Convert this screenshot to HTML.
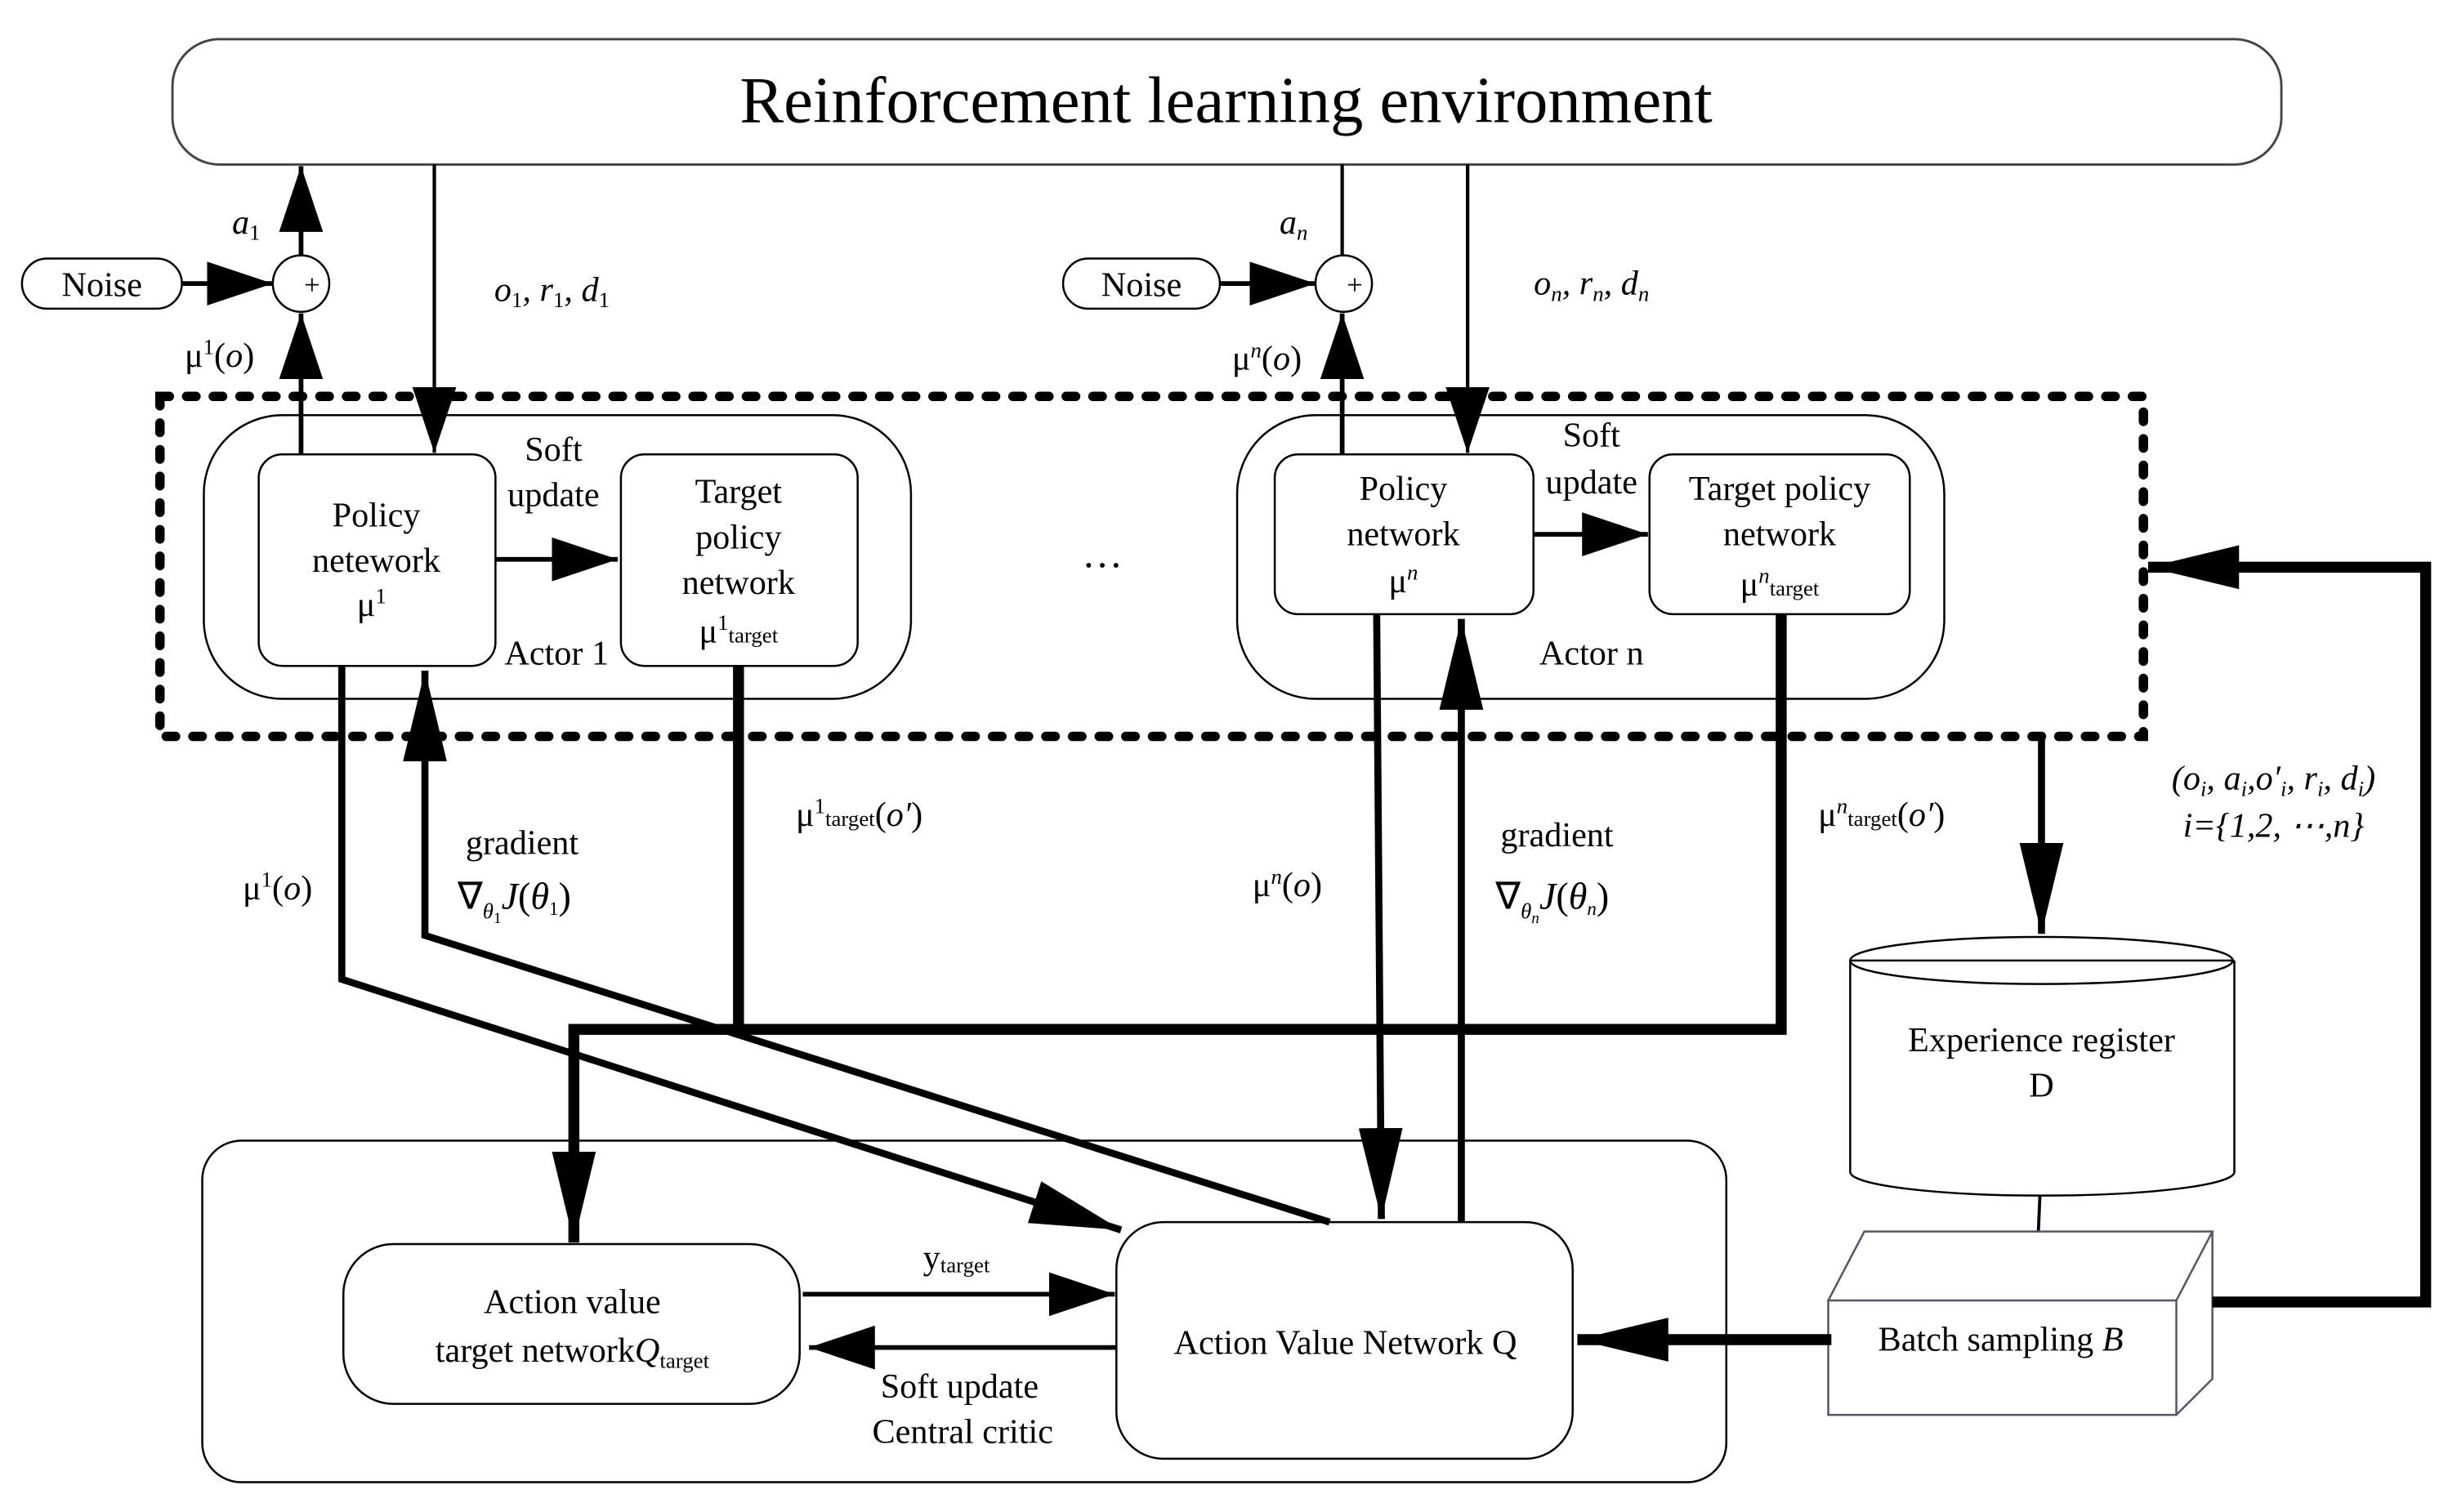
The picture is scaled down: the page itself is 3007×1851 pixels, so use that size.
<!DOCTYPE html>
<html><head><meta charset="utf-8"><style>html,body{margin:0;padding:0;background:#fff}svg{display:block}</style></head><body>
<svg width="3007" height="1851" viewBox="0 0 1567 965" preserveAspectRatio="none" xmlns="http://www.w3.org/2000/svg" font-family="Liberation Serif, serif" font-size="22" text-anchor="middle">
<defs>
<marker id="b" viewBox="0 0 10 10" refX="10" refY="5" markerWidth="58" markerHeight="28" markerUnits="userSpaceOnUse" orient="auto" preserveAspectRatio="none"><path d="M0,0L10,5L0,10z"/></marker>
<marker id="c" viewBox="0 0 10 10" refX="10" refY="5" markerWidth="42" markerHeight="28" markerUnits="userSpaceOnUse" orient="auto" preserveAspectRatio="none"><path d="M0,0L10,5L0,10z"/></marker>
</defs>
<g fill="none" stroke="#000">
<rect x="110" y="25" width="1345" height="80" rx="30" stroke="#444" stroke-width="1.5"/>
<rect x="14" y="165" width="102" height="32" rx="16" stroke-width="1.3"/>
<rect x="678" y="165" width="100" height="32" rx="16" stroke-width="1.3"/>
<circle cx="192" cy="181" r="18" stroke-width="1.3"/>
<circle cx="857" cy="181" r="18" stroke-width="1.3"/>
<rect x="102" y="253" width="1265" height="217" stroke-width="6" stroke-dasharray="6,11" stroke-linecap="round"/>
<rect x="130" y="265" width="451" height="181" rx="50" stroke-width="1.3"/>
<rect x="789" y="265" width="451" height="181" rx="50" stroke-width="1.3"/>
<rect x="165" y="290" width="151" height="135" rx="15" stroke-width="1.3"/>
<rect x="396" y="290" width="151" height="135" rx="15" stroke-width="1.3"/>
<rect x="813" y="290" width="165" height="102" rx="15" stroke-width="1.3"/>
<rect x="1052" y="290" width="166" height="102" rx="15" stroke-width="1.3"/>
<rect x="129" y="728" width="972" height="218" rx="25" stroke-width="1.3"/>
<rect x="219" y="794" width="291" height="102" rx="32" stroke-width="1.3"/>
<rect x="712" y="780" width="291" height="151" rx="30" stroke-width="1.3"/>
<path d="M1180,613 V748 A122,15 0 0 0 1425,748 V613" stroke-width="1.3"/>
<ellipse cx="1302" cy="613" rx="122" ry="15" stroke-width="1.3"/>
<line x1="1180" y1="613" x2="1425" y2="613" stroke-width="1.3"/>
<line x1="1301" y1="763" x2="1300" y2="786" stroke-width="2"/>
<path d="M1166,830 H1388 V903 H1166 Z M1166,830 L1189,786 H1411 L1388,830 M1411,786 V880 L1388,903" stroke="#556" stroke-width="1.3"/>
<g stroke-width="3">
<line x1="116" y1="181" x2="174" y2="181" marker-end="url(#c)"/>
<line x1="778" y1="181" x2="839" y2="181" marker-end="url(#c)"/>
<line x1="192" y1="163" x2="192" y2="106" marker-end="url(#c)"/>
<line x1="192" y1="290" x2="192" y2="200" marker-end="url(#c)"/>
<line x1="856" y1="290" x2="856" y2="200" marker-end="url(#c)"/>
<line x1="316" y1="357" x2="394" y2="357" marker-end="url(#c)"/>
<line x1="978" y1="341" x2="1051" y2="341" marker-end="url(#c)"/>
<line x1="512" y1="826" x2="711" y2="826" marker-end="url(#c)"/>
<line x1="712" y1="860" x2="516" y2="860" marker-end="url(#c)"/>
</g>
<g stroke-width="2.2">
<line x1="277" y1="105" x2="277" y2="289" marker-end="url(#c)"/>
<line x1="936" y1="105" x2="936" y2="289" marker-end="url(#c)"/>
<line x1="856" y1="105" x2="856" y2="163"/>
</g>
<g stroke-width="4.5" stroke-linejoin="miter">
<polyline points="218,425 218,625 715,785" marker-end="url(#b)"/>
<polyline points="848,780 271,597 271,428" marker-end="url(#b)"/>
<line x1="878" y1="392" x2="881" y2="778" marker-end="url(#b)"/>
<line x1="932" y1="780" x2="932" y2="395" marker-end="url(#b)"/>
<line x1="1302" y1="470" x2="1302" y2="596" marker-end="url(#b)"/>
</g>
<g stroke-width="7">
<line x1="471" y1="425" x2="471" y2="657"/>
<polyline points="1136,392 1136,657 366,657 366,793" marker-end="url(#b)"/>
<polyline points="1411,831 1547,831 1547,362 1370,362" marker-end="url(#b)"/>
<line x1="1168" y1="855" x2="1006" y2="855" marker-end="url(#b)"/>
</g>
</g>
<text x="782" y="78" font-size="42">Reinforcement learning environment</text>
<text x="65" y="189">Noise</text>
<text x="728" y="189">Noise</text>
<text x="199" y="188" font-size="18">+</text>
<text x="864" y="188" font-size="18">+</text>
<text x="157" y="149" font-style="italic">a<tspan font-size="14" dy="4" font-style="normal">1</tspan></text>
<text x="825" y="149" font-style="italic">a<tspan font-size="14" dy="4">n</tspan></text>
<text x="140" y="234">μ<tspan font-size="14" dy="-8">1</tspan><tspan dy="8">(</tspan><tspan font-style="italic">o</tspan>)</text>
<text x="808" y="236">μ<tspan font-size="14" dy="-8" font-style="italic">n</tspan><tspan dy="8">(</tspan><tspan font-style="italic">o</tspan>)</text>
<text x="352" y="192" font-style="italic">o<tspan font-size="14" dy="4" font-style="normal">1</tspan><tspan dy="-4">, r</tspan><tspan font-size="14" dy="4" font-style="normal">1</tspan><tspan dy="-4">, d</tspan><tspan font-size="14" dy="4" font-style="normal">1</tspan></text>
<text x="1015" y="188" font-style="italic">o<tspan font-size="14" dy="4">n</tspan><tspan dy="-4">, r</tspan><tspan font-size="14" dy="4">n</tspan><tspan dy="-4">, d</tspan><tspan font-size="14" dy="4">n</tspan></text>
<text x="353" y="294">Soft</text><text x="353" y="323">update</text>
<text x="1015" y="285">Soft</text><text x="1015" y="315">update</text>
<text x="240" y="336">Policy</text><text x="240" y="365">netework</text><text x="237" y="393">μ<tspan font-size="14" dy="-8">1</tspan></text>
<text x="471" y="321">Target</text><text x="471" y="350">policy</text><text x="471" y="379">network</text>
<text x="471" y="410">μ<tspan font-size="14" dy="-8">1</tspan><tspan font-size="14" dy="8">target</tspan></text>
<text x="895" y="319">Policy</text><text x="895" y="348">network</text><text x="895" y="378">μ<tspan font-size="14" dy="-8" font-style="italic">n</tspan></text>
<text x="1135" y="319">Target policy</text><text x="1135" y="348">network</text>
<text x="1135" y="380">μ<tspan font-size="14" dy="-8" font-style="italic">n</tspan><tspan font-size="14" dy="8">target</tspan></text>
<text x="355" y="424">Actor 1</text><text x="1015" y="424">Actor n</text>
<text x="703" y="362" font-size="26">…</text>
<text x="333" y="545">gradient</text>
<text x="328" y="580" font-size="24">∇<tspan font-size="14" dy="6" font-style="italic">θ</tspan><tspan font-size="10" dy="3">1</tspan><tspan dy="-9" font-style="italic">J</tspan>(<tspan font-style="italic">θ</tspan><tspan font-size="12" dy="4">1</tspan><tspan dy="-4">)</tspan></text>
<text x="993" y="540">gradient</text>
<text x="990" y="580" font-size="24">∇<tspan font-size="14" dy="6" font-style="italic">θ</tspan><tspan font-size="10" dy="3" font-style="italic">n</tspan><tspan dy="-9" font-style="italic">J</tspan>(<tspan font-style="italic">θ</tspan><tspan font-size="12" dy="4" font-style="italic">n</tspan><tspan dy="-4">)</tspan></text>
<text x="177" y="574">μ<tspan font-size="14" dy="-8">1</tspan><tspan dy="8">(</tspan><tspan font-style="italic">o</tspan>)</text>
<text x="821" y="572">μ<tspan font-size="14" dy="-8" font-style="italic">n</tspan><tspan dy="8">(</tspan><tspan font-style="italic">o</tspan>)</text>
<text x="548" y="527">μ<tspan font-size="14" dy="-8">1</tspan><tspan font-size="14" dy="8">target</tspan><tspan dy="0">(</tspan><tspan font-style="italic">o′</tspan>)</text>
<text x="1200" y="527">μ<tspan font-size="14" dy="-8" font-style="italic">n</tspan><tspan font-size="14" dy="8">target</tspan>(<tspan font-style="italic">o′</tspan>)</text>
<text x="1450" y="504" font-style="italic">(o<tspan font-size="14" dy="4">i</tspan><tspan dy="-4">, a</tspan><tspan font-size="14" dy="4">i</tspan><tspan dy="-4">,o′</tspan><tspan font-size="14" dy="4">i</tspan><tspan dy="-4">, r</tspan><tspan font-size="14" dy="4">i</tspan><tspan dy="-4">, d</tspan><tspan font-size="14" dy="4">i</tspan><tspan dy="-4">)</tspan></text>
<text x="1450" y="534" font-style="italic">i={1,2, ⋯,n}</text>
<text x="1302" y="671">Experience register</text><text x="1302" y="700">D</text>
<text x="1276" y="862">Batch sampling <tspan font-style="italic">B</tspan></text>
<text x="365" y="838">Action value</text>
<text x="365" y="869">target network<tspan font-style="italic">Q</tspan><tspan font-size="14" dy="4">target</tspan></text>
<text x="610" y="810">y<tspan font-size="14" dy="2">target</tspan></text>
<text x="858" y="864">Action Value Network Q</text>
<text x="612" y="892">Soft update</text><text x="614" y="921">Central critic</text>
</svg>
</body></html>
